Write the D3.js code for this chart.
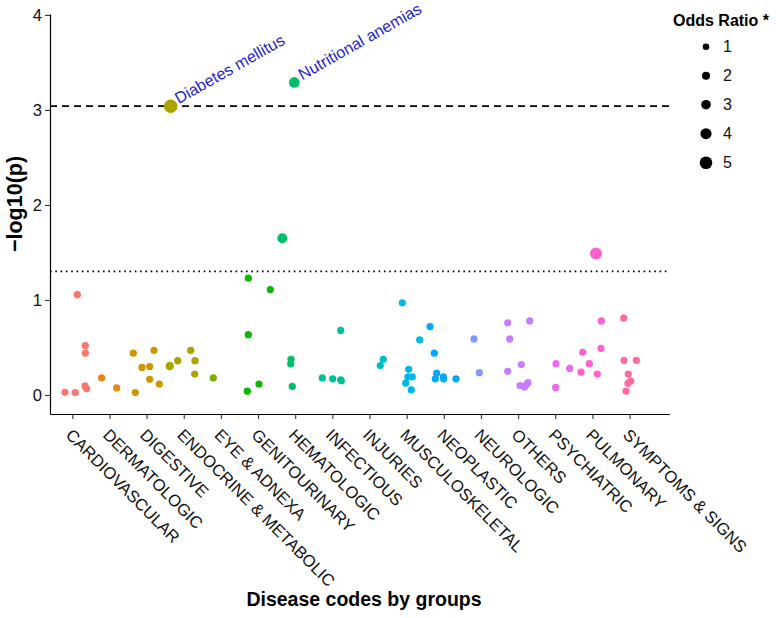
<!DOCTYPE html>
<html><head><meta charset="utf-8">
<script src="https://cdn.jsdelivr.net/npm/d3@7"></script>
<style>body{margin:0;background:#fff}svg{display:block;font-family:"Liberation Sans",Arial,Helvetica,sans-serif}</style>
</head><body><svg id="chart" width="776" height="618"></svg>
<script>
const categories = ["CARDIOVASCULAR","DERMATOLOGIC","DIGESTIVE","ENDOCRINE & METABOLIC","EYE & ADNEXA","GENITOURINARY","HEMATOLOGIC","INFECTIOUS","INJURIES","MUSCULOSKELETAL","NEOPLASTIC","NEUROLOGIC","OTHERS","PSYCHIATRIC","PULMONARY","SYMPTOMS & SIGNS"];
const pointGroup  = [0,0,0,0,0,0,0, 1,1, 2,2,2,2,2,2,2, 3,3,3,3,3,3, 4, 5,5,5,5,5, 6,6,6,6,6, 7,7,7,7,7, 8,8, 9,9,9,9,9,9,9, 10,10,10,10,10,10,10, 11,11, 12,12,12,12,12,12,12,12,12, 13,13,13, 14,14,14,14,14,14,14, 15,15,15,15,15,15,15];
const pointJitter = [0.135,0.35,0.35,0.342,0.388,-0.196,0.081, -0.209,0.195, -0.358,-0.304,-0.124,0.083,0.199,0.083,0.342, -0.378,-0.163,0.187,0.303,0.295,-0.351, -0.205, -0.262,0.330,-0.262,-0.289,0.026, -0.347,-0.024,-0.113,-0.121,-0.078, -0.271,0.009,0.225,0.241,0.225, 0.371,0.291, -0.117,0.055,0.036,0.152,-0.026,0.125,0.351, -0.371,-0.256,-0.191,-0.229,-0.013,-0.003,0.328, -0.187,-0.044, -0.280,0.312,-0.226,-0.280,0.086,0.051,0.172,0.266,0.226, 0.020,0.012,0.389, 0.097,-0.261,-0.083,-0.307,0.132,0.240,0.231, -0.157,-0.149,0.182,-0.034,0.031,-0.042,-0.096];
const pointLogP   = [1.056,0.52,0.44,0.095,0.066,0.028,0.025, 0.18,0.074, 0.44,0.025,0.29,0.30,0.47,0.165,0.116, 0.305,0.36,0.47,0.36,0.22,3.04, 0.18, 1.23,1.11,0.635,0.04,0.116, 1.65,3.29,0.376,0.326,0.09, 0.18,0.17,0.16,0.15,0.68, 0.376,0.31, 0.97,0.27,0.19,0.19,0.126,0.053,0.58, 0.72,0.44,0.23,0.17,0.19,0.17,0.17, 0.59,0.235, 0.76,0.78,0.59,0.25,0.32,0.10,0.085,0.13,0.11, 0.33,0.08,0.28, 1.49,0.45,0.33,0.24,0.22,0.78,0.49, 0.81,0.365,0.365,0.22,0.147,0.123,0.042];
const pointOR     = [1.5,1.4,1.4,1.4,1.4,1.4,1.4, 1.4,1.4, 1.4,1.4,1.4,1.4,1.4,1.4,1.4, 2.2,1.5,1.5,1.5,1.4,5.6, 1.4, 1.4,1.4,1.5,1.4,1.4, 3.3,3.7,1.4,1.4,1.4, 1.4,1.4,1.4,1.4,1.4, 1.4,1.4, 1.4,1.4,1.4,1.4,1.4,1.4,1.4, 1.4,1.4,1.4,1.4,1.4,1.4,1.4, 1.4,1.4, 1.4,1.4,1.4,1.4,1.4,1.4,1.4,1.4,1.4, 1.4,1.4,1.4, 4.6,1.4,1.4,1.4,1.4,1.4,1.4, 1.4,1.4,1.4,1.4,1.4,1.4,1.4];
const annotationLabels = ["Diabetes mellitus","Nutritional anemias"];
const annotationPoints = [21, 29];
const yTicks = [0,1,2,3,4];
const legendOR = [1,2,3,4,5];
const bonferroniLine = 3.04;
const nominalLine = 1.301;

// R-style hcl (polar CIE-LUV) -> hex, as used by ggplot's hue palette
function hclR(h, c, l) {
  const Xn = 95.047, Yn = 100, Zn = 108.883;
  const d = Xn + 15*Yn + 3*Zn, un = 4*Xn/d, vn = 9*Yn/d;
  const hr = h*Math.PI/180, u = c*Math.cos(hr), v = c*Math.sin(hr);
  const Y = l > 8 ? Yn*Math.pow((l+16)/116,3) : Yn*l/903.3;
  const up = u/(13*l) + un, vp = v/(13*l) + vn;
  const X = 9*Y*up/(4*vp), Z = -X/3 - 5*Y + 3*Y/vp;
  const x = X/100, y = Y/100, z = Z/100;
  const lin = [3.240479*x - 1.537150*y - 0.498535*z, -0.969256*x + 1.875992*y + 0.041556*z, 0.055648*x - 0.204043*y + 1.057311*z];
  const g = lin.map(t => { const s = t <= 0.0031308 ? 12.92*t : 1.055*Math.pow(t,1/2.4) - 0.055; return Math.round(Math.max(0, Math.min(1, s))*255); });
  return d3.rgb(g[0], g[1], g[2]).formatHex();
}
const n = categories.length;
const palette = d3.range(n).map(i => hclR(15 + 360*i/n, 100, 65));

const svg = d3.select("#chart");
const x = d3.scaleLinear().domain([-0.6, 16.07]).range([50, 669.3]);
const y = d3.scaleLinear().domain([-0.2, 4.01]).range([414, 14]);
const r = d3.scaleLinear().domain([1, 5]).range([3.3, 6.3]);

// threshold lines
svg.append("line").attr("x1", x.range()[0]).attr("x2", x.range()[1])
  .attr("y1", y(bonferroniLine)).attr("y2", y(bonferroniLine))
  .attr("stroke", "#000").attr("stroke-width", 1.6).attr("stroke-dasharray", "7 5");
svg.append("line").attr("x1", x.range()[0]).attr("x2", x.range()[1])
  .attr("y1", y(nominalLine)).attr("y2", y(nominalLine))
  .attr("stroke", "#000").attr("stroke-width", 1.7).attr("stroke-dasharray", "1.6 3.7");

// axes
const xAxis = svg.append("g").attr("transform", `translate(0,${y.range()[0]})`)
  .call(d3.axisBottom(x).tickValues(d3.range(n)).tickFormat(i => categories[i]).tickSize(5).tickSizeOuter(0));
xAxis.select(".domain").attr("stroke", "#000").attr("stroke-width", 1.2);
xAxis.selectAll(".tick line").attr("stroke", "#333").attr("stroke-width", 1.1);
xAxis.selectAll(".tick text").attr("x", 0).attr("y", 0).attr("dy", 0)
  .attr("transform", "translate(-8,22) rotate(45)").attr("text-anchor", "start")
  .attr("font-size", 16.6).attr("fill", "#111").style("font-family", "Liberation Sans, Arial, sans-serif");

const yAxis = svg.append("g").attr("transform", `translate(${x.range()[0]},0)`)
  .call(d3.axisLeft(y).tickValues(yTicks).tickFormat(d3.format("d")).tickSize(5).tickSizeOuter(0));
yAxis.select(".domain").attr("stroke", "#000").attr("stroke-width", 1.2);
yAxis.selectAll(".tick line").attr("stroke", "#333").attr("stroke-width", 1.1);
yAxis.selectAll(".tick text").attr("x", -8).attr("font-size", 16.6).attr("fill", "#111")
  .style("font-family", "Liberation Sans, Arial, sans-serif");

// points
const pts = d3.range(pointGroup.length);
svg.append("g").selectAll("circle").data(pts).join("circle")
  .attr("cx", i => x(pointGroup[i] + pointJitter[i]))
  .attr("cy", i => y(pointLogP[i]))
  .attr("r", i => r(pointOR[i]))
  .attr("fill", i => palette[pointGroup[i]]);

// annotations
svg.append("g").selectAll("text").data(annotationPoints).join("text")
  .attr("transform", i => `translate(${x(pointGroup[i] + pointJitter[i]) + 8},${y(pointLogP[i]) - 2}) rotate(-29.5)`)
  .attr("font-size", 16.2).attr("fill", "#1f1fcc")
  .text((i, k) => annotationLabels[k]);

// axis titles
svg.append("text").attr("x", 364).attr("y", 606).attr("text-anchor", "middle")
  .attr("font-size", 19.5).attr("font-weight", "bold").attr("fill", "#000")
  .text("Disease codes by groups");
svg.append("text").attr("transform", `translate(22,204) rotate(-90)`).attr("text-anchor", "middle")
  .attr("font-size", 21.5).attr("font-weight", "bold").attr("fill", "#000")
  .text("\u2212log10(p)");

// legend
const lg = svg.append("g");
lg.append("text").attr("x", 673).attr("y", 26).attr("font-size", 16).attr("font-weight", "bold").text("Odds Ratio *");
const li = lg.selectAll("g.item").data(legendOR).join("g").attr("class", "item")
  .attr("transform", (d, k) => `translate(706,${46.7 + 29 * k})`);
li.append("circle").attr("r", d => r(d)).attr("fill", "#000");
li.append("text").attr("x", 17).attr("dy", "0.36em").attr("font-size", 16).attr("fill", "#111").text(d => d);
</script></body></html>
